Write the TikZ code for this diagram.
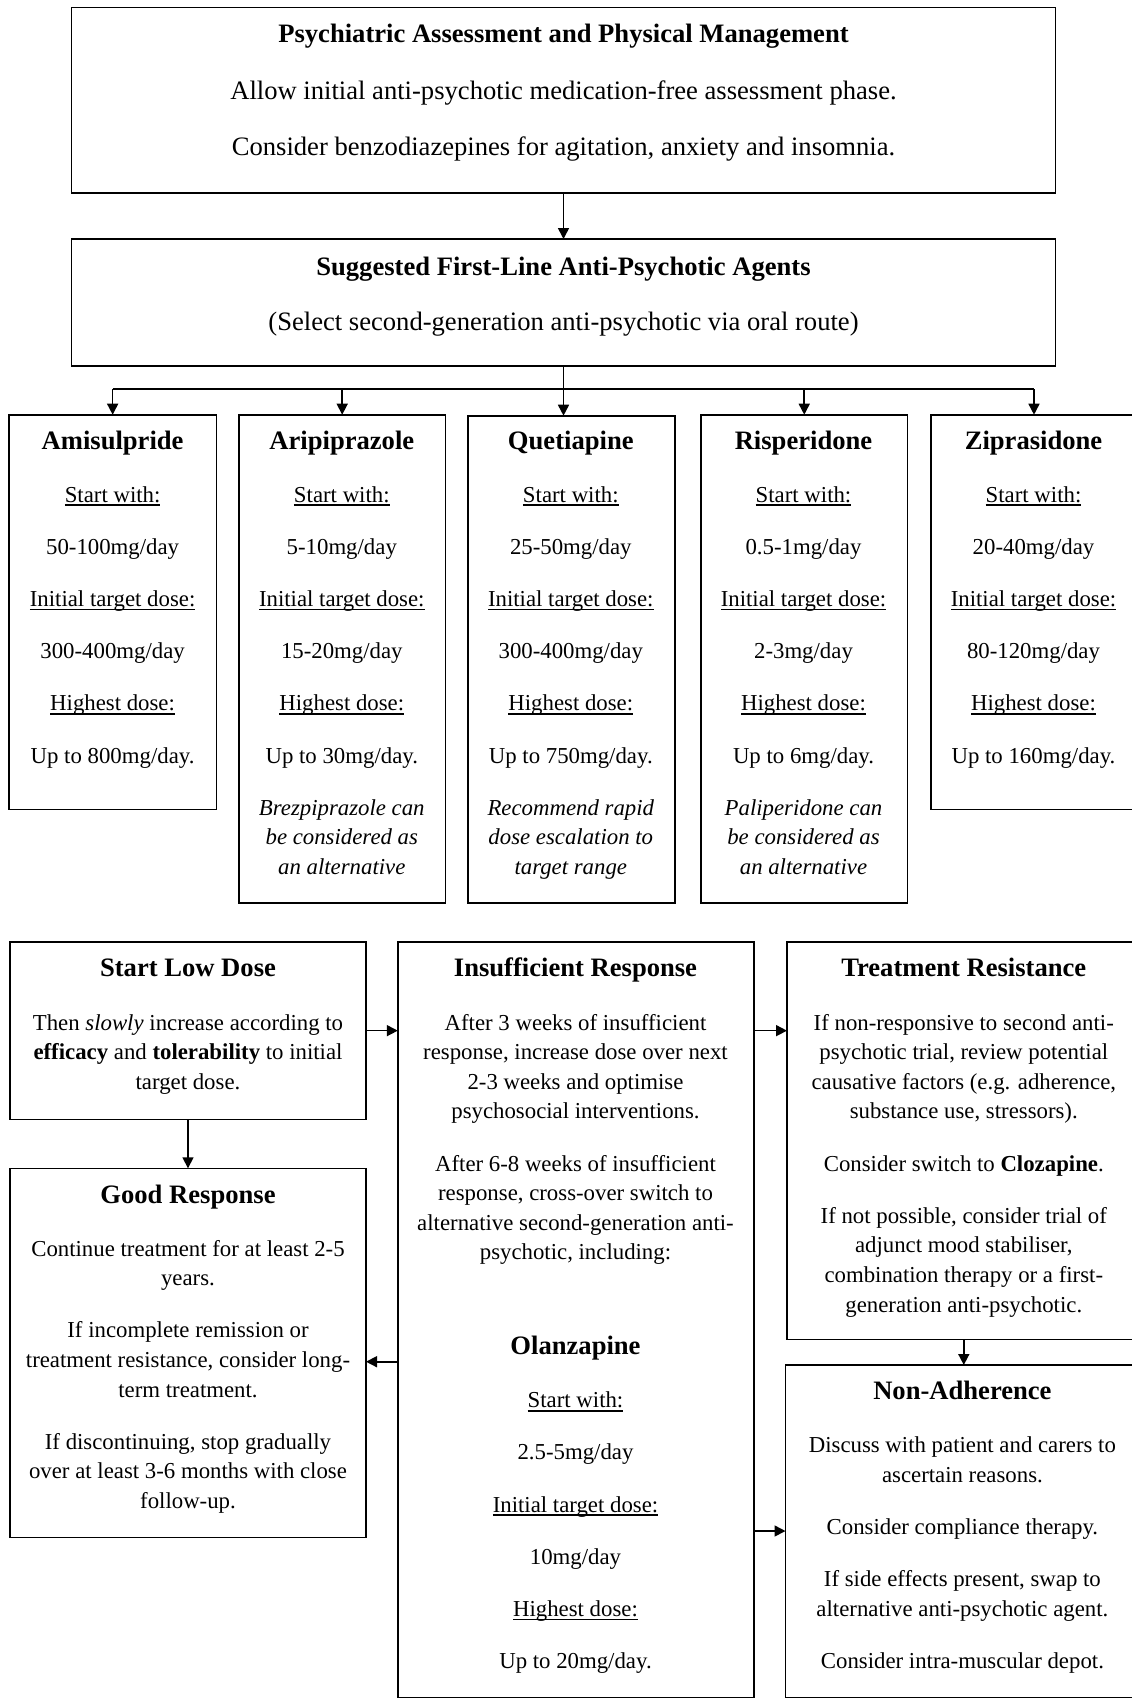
\documentclass[tikz,border=0pt]{standalone}
\usepackage{fontspec}
\setmainfont{Liberation Serif}
\usetikzlibrary{arrows.meta}
\newsavebox\ulbox
\newcommand\myul[1]{\leavevmode\sbox\ulbox{#1}\rlap{\raisebox{-3.8pt}{\rule{\wd\ulbox}{1.6pt}}}\usebox\ulbox}
\newcommand\drugbody[3]{\myul{Start with:}\\[22.6pt]#1\\[22.6pt]\myul{Initial target dose:}\\[22.6pt]#2\\[22.6pt]\myul{Highest dose:}\\[22.6pt]#3}
\begin{document}
\begin{tikzpicture}[x=1pt,y=-1pt,
  box/.style={draw, line width=1.6pt, inner sep=0pt, outer sep=0pt},
  arr/.style={line width=1.6pt, -{Triangle[length=11pt,width=11pt]}},
  ln/.style={line width=1.6pt},
  ttl/.style={font=\fontsize{26.6}{29.6}\selectfont\bfseries, anchor=base, inner sep=0pt},
  bod/.style={font=\fontsize{22.8}{29.6}\selectfont, anchor=base, inner sep=0pt, align=flush center, text width=#1},
  bod/.default=205pt,
  big/.style={font=\fontsize{26.6}{29.6}\selectfont, anchor=base, inner sep=0pt, align=flush center, text width=980pt}]
\fill[white] (0,0) rectangle (1132,1698);
\useasboundingbox (0,0) rectangle (1132,1698);

% top boxes
\node[box, minimum width=984pt, minimum height=185.4pt] (top) at (563.5,100) {};
\node[ttl] (top-t) at (563.5,42.5) {Psychiatric Assessment and Physical Management};
\node[big] (top-b) at (563.5,99.5) {Allow initial anti-psychotic medication-free assessment phase.\\[26.4pt]Consider benzodiazepines for agitation, anxiety and insomnia.};

\node[box, minimum width=984pt, minimum height=127pt] (sec) at (563.5,302.5) {};
\node[ttl] (sec-t) at (563.5,275) {Suggested First-Line Anti-Psychotic Agents};
\node[big] (sec-b) at (563.5,330) {(Select second-generation anti-psychotic via oral route)};

% drug boxes
\node[box, minimum width=207.9pt, minimum height=394.6pt] (ami) at (112.65,612) {};
\node[box, minimum width=206.4pt, minimum height=488.3pt] (ari) at (342.2,658.85) {};
\node[box, minimum width=207.2pt, minimum height=487.3pt] (que) at (571.4,659.35) {};
\node[box, minimum width=206.5pt, minimum height=488.3pt] (ris) at (804.25,658.85) {};
\node[box, minimum width=206pt, minimum height=394.6pt] (zip) at (1034,612) {};

\node[ttl] (ami-t) at (112.6,449.7) {Amisulpride};
\node[ttl] (ari-t) at (341.8,449.7) {Aripiprazole};
\node[ttl] (que-t) at (570.8,449.7) {Quetiapine};
\node[ttl] (ris-t) at (803.5,449.7) {Risperidone};
\node[ttl] (zip-t) at (1033.5,449.7) {Ziprasidone};

\node[bod] (ami-b) at (112.6,502) {\drugbody{50-100mg/day}{300-400mg/day}{Up to 800mg/day.}};
\node[bod] (ari-b) at (341.8,502) {\drugbody{5-10mg/day}{15-20mg/day}{Up to 30mg/day.}\\[22.6pt]\textit{Brezpiprazole can}\\\textit{be considered as}\\\textit{an alternative}};
\node[bod] (que-b) at (570.8,502) {\drugbody{25-50mg/day}{300-400mg/day}{Up to 750mg/day.}\\[22.6pt]\textit{Recommend rapid}\\\textit{dose escalation to}\\\textit{target range}};
\node[bod] (ris-b) at (803.5,502) {\drugbody{0.5-1mg/day}{2-3mg/day}{Up to 6mg/day.}\\[22.6pt]\textit{Paliperidone can}\\\textit{be considered as}\\\textit{an alternative}};
\node[bod] (zip-b) at (1033.5,502) {\drugbody{20-40mg/day}{80-120mg/day}{Up to 160mg/day.}};

% connectors top
\coordinate (bus) at (563.5,389);
\draw[arr] (top) -- (sec);
\draw[arr] (sec.south) -- (bus) -- (bus |- que.north);
\draw[ln] (bus -| ami.north) -- (bus -| zip.north);
\draw[arr] (bus -| ami.north) -- (ami.north);
\draw[arr] (bus -| ari.north) -- (ari.north);
\draw[arr] (bus -| ris.north) -- (ris.north);
\draw[arr] (bus -| zip.north) -- (zip.north);

% bottom boxes
\node[box, minimum width=356pt, minimum height=177.3pt] (sld) at (188,1030.65) {};
\node[box, minimum width=355.9pt, minimum height=756pt] (ir) at (575.75,1320) {};
\node[box, minimum width=353.6pt, minimum height=397.3pt] (tr) at (963.8,1140.65) {};
\node[box, minimum width=356pt, minimum height=369pt] (gr) at (188,1352.8) {};
\node[box, minimum width=353.8pt, minimum height=333pt] (na) at (962.4,1531.5) {};

\node[ttl] (sld-t) at (188,976) {Start Low Dose};
\node[bod=350pt] (sld-b) at (188,1030) {Then \textit{slowly} increase according to\\\textbf{efficacy} and \textbf{tolerability} to initial\\target dose.};

\node[ttl] (ir-t) at (575.5,976) {Insufficient Response};
\node[bod=350pt] (ir-b) at (575.5,1030) {After 3 weeks of insufficient\\response, increase dose over next\\2-3 weeks and optimise\\psychosocial interventions.\\[22.6pt]After 6-8 weeks of insufficient\\response, cross-over switch to\\alternative second-generation anti-\\psychotic, including:};
\node[ttl] (ola-t) at (575.5,1354.5) {Olanzapine};
\node[bod] (ola-b) at (575.5,1407.7) {\drugbody{2.5-5mg/day}{10mg/day}{Up to 20mg/day.}};

\node[ttl] (tr-t) at (963.8,976) {Treatment Resistance};
\node[bod=350pt] (tr-b) at (963.8,1030) {If non-responsive to second anti-\\psychotic trial, review potential\\causative factors (e.g. adherence,\\substance use, stressors).\\[22.6pt]Consider switch to \textbf{Clozapine}.\\[22.6pt]If not possible, consider trial of\\adjunct mood stabiliser,\\combination therapy or a first-\\generation anti-psychotic.};

\node[ttl] (gr-t) at (188,1203) {Good Response};
\node[bod=350pt] (gr-b) at (188,1256) {Continue treatment for at least 2-5\\years.\\[22.6pt]If incomplete remission or\\treatment resistance, consider long-\\term treatment.\\[22.6pt]If discontinuing, stop gradually\\over at least 3-6 months with close\\follow-up.};

\node[ttl] (na-t) at (962.4,1399.5) {Non-Adherence};
\node[bod=350pt] (na-b) at (962.4,1452.7) {Discuss with patient and carers to\\ascertain reasons.\\[22.6pt]Consider compliance therapy.\\[22.6pt]If side effects present, swap to\\alternative anti-psychotic agent.\\[22.6pt]Consider intra-muscular depot.};

% connectors bottom
\coordinate (g1) at (0,1361.7);
\coordinate (n1) at (0,1531);
\draw[arr] (sld.east) -- (sld.east -| ir.west);
\draw[arr] (sld.east -| ir.east) -- (sld.east -| tr.west);
\draw[arr] (sld.south) -- (gr.north);
\draw[arr] (ir.west |- g1) -- (gr.east |- g1);
\draw[arr] (tr.south) -- (tr.south |- na.north);
\draw[arr] (ir.east |- n1) -- (na.west |- n1);
\end{tikzpicture}
\end{document}
